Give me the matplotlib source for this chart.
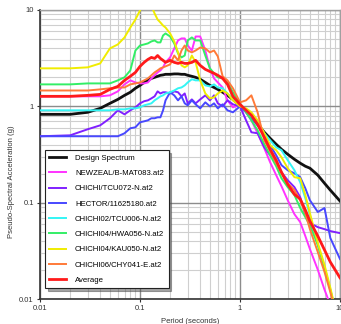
import matplotlib
matplotlib.use("Agg")
import matplotlib.pyplot as plt
from matplotlib.ticker import LogLocator, NullFormatter, FixedLocator, FixedFormatter

plt.rcParams['font.family'] = ['Liberation Sans', 'DejaVu Sans']

periods = [0.01, 0.02, 0.03, 0.04, 0.05, 0.06, 0.07, 0.08, 0.09, 0.10, 0.11, 0.12, 0.13,
           0.14, 0.15, 0.16, 0.17, 0.18, 0.20, 0.22, 0.24, 0.26, 0.28, 0.30, 0.33, 0.36,
           0.40, 0.45, 0.50, 0.55, 0.60, 0.67, 0.75, 0.85, 1.0, 1.15, 1.3, 1.5, 1.75,
           2.0, 2.3, 2.6, 3.0, 3.5, 4.0, 4.5, 5.0, 6.0, 7.0, 8.0, 10.0]

design = [0.826, 0.826, 0.867, 0.953, 1.074, 1.18, 1.30, 1.40, 1.54, 1.65, 1.77, 1.86, 1.95,
          2.00, 2.05, 2.10, 2.12, 2.15, 2.15, 2.17, 2.17, 2.15, 2.15, 2.10, 2.05, 2.00,
          1.91, 1.77, 1.65, 1.57, 1.50, 1.40, 1.30, 1.18, 1.024, 0.888, 0.769, 0.651, 0.538,
          0.466, 0.404, 0.358, 0.318, 0.282, 0.257, 0.239, 0.228, 0.193, 0.159, 0.135, 0.104]

newzeal = [1.27, 1.27, 1.27, 1.27, 1.30, 1.43, 1.69, 1.86, 1.77, 1.73, 1.73, 1.77, 1.95,
           2.10, 2.25, 2.36, 2.54, 2.86, 3.22, 3.99, 4.83, 5.07, 5.07, 4.28, 3.80, 5.31,
           5.31, 3.80, 2.48, 1.95, 1.77, 1.57, 1.154, 0.976, 1.049, 0.867, 0.716, 0.525, 0.367,
           0.263, 0.193, 0.148, 0.106, 0.0760, 0.0628, 0.0450, 0.0330, 0.0201, 0.0125, 0.0087, 0.0042]

tcu072 = [0.489, 0.500, 0.578, 0.635, 0.752, 0.909, 0.826, 0.909, 0.976, 1.074, 1.13, 1.154, 1.21,
          1.27, 1.43, 1.36, 1.40, 1.40, 1.36, 1.43, 1.40, 1.27, 1.36, 1.074, 1.18, 1.074,
          1.18, 1.30, 1.154, 1.30, 1.074, 1.0, 1.154, 1.049, 1.0, 0.716, 0.538, 0.525, 0.376,
          0.311, 0.257, 0.207, 0.171, 0.145, 0.114, 0.0743, 0.0613, 0.0557, 0.0531, 0.0507, 0.0483]

hector = [0.489, 0.489, 0.489, 0.489, 0.489, 0.489, 0.525, 0.592, 0.606, 0.683, 0.699, 0.716, 0.752,
          0.752, 0.769, 0.769, 0.909, 1.154, 1.40, 1.30, 1.154, 1.27, 1.074, 1.024, 1.154, 1.049,
          0.953, 1.10, 1.0, 1.074, 0.953, 1.049, 0.909, 0.867, 1.0, 0.867, 0.752, 0.635, 0.500,
          0.395, 0.311, 0.245, 0.217, 0.202, 0.184, 0.141, 0.106, 0.080, 0.088, 0.043, 0.0260]

tcu006 = [0.909, 0.909, 0.909, 0.909, 0.909, 0.931, 0.931, 0.953, 0.953, 0.976, 1.024, 1.049, 1.074,
          1.154, 1.21, 1.27, 1.30, 1.36, 1.40, 1.46, 1.54, 1.57, 1.65, 1.77, 1.91, 1.86,
          1.86, 1.65, 1.61, 1.69, 1.57, 1.54, 1.36, 1.18, 1.049, 0.909, 0.788, 0.683, 0.525,
          0.445, 0.376, 0.350, 0.276, 0.217, 0.163, 0.111, 0.0743, 0.0364, 0.0211, 0.0125, 0.0048]

hwa056 = [1.69, 1.69, 1.73, 1.73, 1.73, 1.86, 2.00, 2.36, 3.80, 4.28, 4.39, 4.50, 4.72,
          4.83, 4.61, 4.61, 5.44, 5.71, 5.31, 4.50, 3.54, 3.22, 3.37, 4.83, 5.19, 4.83,
          4.83, 3.37, 2.48, 2.20, 2.00, 1.95, 1.77, 1.40, 1.074, 0.867, 0.716, 0.564, 0.404,
          0.311, 0.239, 0.179, 0.145, 0.120, 0.088, 0.0708, 0.0585, 0.0364, 0.0211, 0.0125, 0.0048]

kau050 = [2.48, 2.48, 2.54, 2.79, 3.99, 4.39, 5.19, 6.58, 7.97, 9.89, 12.6, 13.0, 11.1,
          9.20, 7.97, 7.42, 6.90, 6.58, 5.71, 4.72, 3.63, 2.66, 2.54, 2.66, 3.37, 2.86,
          1.86, 1.36, 1.21, 1.24, 1.36, 1.46, 1.36, 1.154, 1.0, 0.953, 0.867, 0.716, 0.525,
          0.395, 0.350, 0.296, 0.228, 0.184, 0.179, 0.120, 0.0778, 0.0382, 0.0226, 0.0131, 0.0048]

chy041 = [1.46, 1.46, 1.46, 1.50, 1.54, 1.57, 1.57, 1.69, 1.73, 1.77, 1.86, 1.95, 2.10,
          2.25, 2.36, 2.48, 2.54, 2.60, 2.72, 3.37, 3.00, 3.80, 4.28, 3.80, 3.63, 3.80,
          4.08, 3.99, 3.63, 3.80, 3.30, 2.05, 1.86, 1.54, 1.10, 1.154, 1.30, 0.867, 0.445,
          0.342, 0.257, 0.202, 0.159, 0.135, 0.106, 0.0778, 0.0531, 0.0307, 0.0191, 0.0118, 0.0048]

average = [1.27, 1.27, 1.30, 1.33, 1.50, 1.61, 1.86, 2.05, 2.25, 2.60, 2.86, 3.07, 3.22,
           3.14, 3.37, 3.14, 3.00, 2.86, 3.00, 2.86, 2.79, 2.86, 2.79, 2.79, 2.86, 3.00,
           2.66, 2.42, 2.30, 2.20, 2.10, 1.95, 1.69, 1.27, 1.049, 0.909, 0.807, 0.651, 0.477,
           0.358, 0.276, 0.207, 0.155, 0.122, 0.109, 0.084, 0.0643, 0.0450, 0.0323, 0.0242, 0.0166]

labels = ["Design Spectrum", "NEWZEAL/B-MAT083.at2", "CHICHI/TCU072-N.at2",
          "HECTOR/11625180.at2", "CHICHI02/TCU006-N.at2", "CHICHI04/HWA056-N.at2",
          "CHICHI04/KAU050-N.at2", "CHICHI06/CHY041-E.at2", "Average"]

tick_vals = [0.01, 0.1, 1, 10]
tick_text = ["0.01", "0.1", "1", "10"]

series = [design, newzeal, tcu072, hector, tcu006, hwa056, kau050, chy041, average]
colors = ["#111111", "#ff33ff", "#8020ff", "#4848ff", "#33f5f5", "#33ee66",
          "#f0ec00", "#ff7a38", "#ff1a1a"]
widths = [2.0, 1.4, 1.4, 1.4, 1.4, 1.4, 1.4, 1.4, 2.0]
zorders = [3, 4, 4, 4, 4, 4, 4, 4, 5]

fig = plt.figure(figsize=(3.41, 3.24), dpi=100)
ax = fig.add_axes([40 / 341, 25 / 324, 300 / 341, 289 / 324])

for vals, lab, c, lw, z in zip(series, labels, colors, widths, zorders):
    ax.plot(periods, vals, color=c, lw=lw, label=lab, zorder=z, solid_joinstyle='round')

ax.set_xscale('log')
ax.set_yscale('log')
ax.set_xlim(0.01, 10)
ax.set_ylim(0.01, 10)

ax.xaxis.set_major_locator(FixedLocator(tick_vals))
ax.xaxis.set_major_formatter(FixedFormatter(tick_text))
ax.yaxis.set_major_locator(FixedLocator(tick_vals))
ax.yaxis.set_major_formatter(FixedFormatter(tick_text))
ax.xaxis.set_minor_locator(LogLocator(base=10, subs=range(2, 10)))
ax.yaxis.set_minor_locator(LogLocator(base=10, subs=range(2, 10)))
ax.xaxis.set_minor_formatter(NullFormatter())
ax.yaxis.set_minor_formatter(NullFormatter())

ax.grid(which='major', color='#8c8c8c', lw=1.0, zorder=1)
ax.grid(which='minor', color='#cfcfcf', lw=0.8, zorder=1)
ax.set_axisbelow(True)

ax.tick_params(which='major', labelsize=5.5, length=2.5, width=0.8, pad=2, colors='#333333')
ax.tick_params(which='minor', length=0)
for s in ['left', 'bottom']:
    ax.spines[s].set_color('#333333')
    ax.spines[s].set_linewidth(1.2)
for s in ['top', 'right']:
    ax.spines[s].set_color('#a0a0a0')
    ax.spines[s].set_linewidth(1.0)

ax.set_xlabel("Period (seconds)", fontsize=5.5, color='#333333')
ax.xaxis.set_label_coords(0.5, -0.066)
ax.set_ylabel("Pseudo-Spectral Acceleration (g)", fontsize=5.5, color='#333333')
ax.yaxis.set_label_coords(-0.083, 0.405)

leg = ax.legend(loc='lower left', bbox_to_anchor=(0.017, 0.038), fontsize=5.6,
                frameon=True, fancybox=False, shadow=True, edgecolor='#222222',
                borderpad=0.55, labelspacing=1.0, handlelength=2.2, handletextpad=1.1,
                borderaxespad=0)
leg.get_frame().set_linewidth(0.8)
leg.set_zorder(10)

fig.savefig("out.png", dpi=100)
